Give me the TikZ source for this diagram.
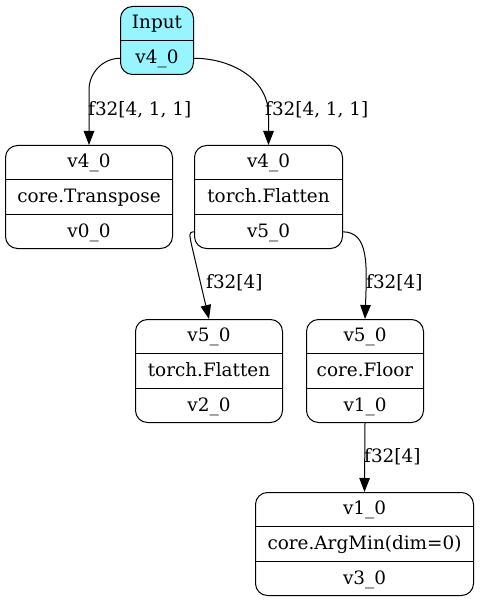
\documentclass[tikz,border=0pt]{standalone}
\usepackage{fontspec}
\setmainfont{DejaVu Serif}
\usetikzlibrary{arrows.meta}
\definecolor{inputcyan}{HTML}{98F5FF}
% record-style box: name, left x, width, top y, three row texts
\newcommand\recbox[7]{%
  \node[box, minimum width=#3pt, minimum height=103pt, anchor=north west] (#1) at (#2,#4) {};
  \node[cell, minimum width=#3pt] (#1-a) at ([yshift=-17.17pt]#1.north) {#5};
  \node[cell, minimum width=#3pt] (#1-b) at (#1.center) {#6};
  \node[cell, minimum width=#3pt] (#1-c) at ([yshift=17.17pt]#1.south) {#7};
  \draw[rowrule] ([yshift=-34.33pt]#1.north west) -- ([yshift=-34.33pt]#1.north east);
  \draw[rowrule] ([yshift=34.33pt]#1.south west) -- ([yshift=34.33pt]#1.south east);
}
\begin{document}
\begin{tikzpicture}[x=1pt,y=-1pt,
  font=\fontsize{18.4}{21}\selectfont,
  box/.style={draw, rounded corners=12pt, line width=1pt, inner sep=0pt},
  cell/.style={inner sep=0pt, minimum height=34.33pt, text height=1.05em, text depth=0em},
  rowrule/.style={line width=1pt},
  edge/.style={line width=1pt, -{Triangle[length=14pt,width=10.5pt]}},
  lbl/.style={anchor=west, inner sep=0pt, text height=1.05em, text depth=0em},
]
\useasboundingbox (0,0) rectangle (479,601);

% input node
\node[box, fill=inputcyan, minimum width=73pt, minimum height=68pt, anchor=north west] (in) at (120,6) {};
\node[cell, minimum width=73pt, minimum height=34.5pt] (in-a) at ([yshift=-17.25pt]in.north) {Input};
\node[cell, minimum width=73pt, minimum height=33.5pt] (in-b) at ([yshift=16.75pt]in.south) {v4\_0};
\draw[rowrule] ([yshift=-34.5pt]in.north west) -- ([yshift=-34.5pt]in.north east);

% operation nodes
\recbox{tr}{5}{167}{145}{v4\_0}{core.Transpose}{v0\_0}
\recbox{fl}{194}{148}{145}{v4\_0}{torch.Flatten}{v5\_0}
\recbox{fla}{135}{147}{319}{v5\_0}{torch.Flatten}{v2\_0}
\recbox{flo}{306}{117}{319}{v5\_0}{core.Floor}{v1\_0}
\recbox{am}{255}{218}{492}{v1\_0}{core.ArgMin(dim=0)}{v3\_0}

% connectors
\draw[edge] (in-b.west) to[out=180,in=90] ([yshift=55pt]tr.north) -- (tr.north);
\draw[edge] (in-b.east) to[out=0,in=90] ([yshift=30pt]fl.north) -- (fl.north);
\draw[edge] (fl-c.west) .. controls +(-7,0) and +(-1,-7) .. ([xshift=-3pt,yshift=-12pt]fl-c.west) -- (fla.north);
\draw[edge] (fl-c.east) .. controls +(26,0) and +(2,-55) .. (flo.north);
\draw[edge] (flo.south) -- (am.north);

% connector labels
\node[lbl] (l1) at (88,110) {f32[4, 1, 1]};
\node[lbl] (l2) at (265,110) {f32[4, 1, 1]};
\node[lbl] (l3) at (206,283) {f32[4]};
\node[lbl] (l4) at (366,283) {f32[4]};
\node[lbl] (l5) at (364,457) {f32[4]};
\end{tikzpicture}
\end{document}
